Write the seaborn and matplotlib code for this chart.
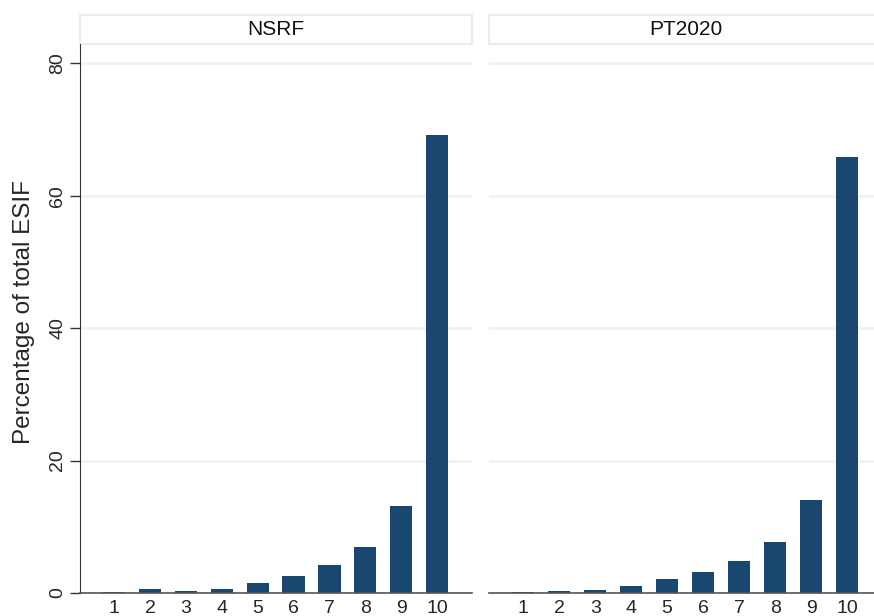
import pandas as pd
import seaborn as sns
import matplotlib.pyplot as plt
from matplotlib.patches import Rectangle

# values (percent of total ESIF by decile)
deciles = ['1', '2', '3', '4', '5', '6', '7', '8', '9', '10']
nsrf = [0.2, 0.55, 0.3, 0.65, 1.5, 2.6, 4.3, 7.0, 13.1, 69.2]
pt2020 = [0.1, 0.25, 0.4, 1.05, 2.05, 3.2, 4.8, 7.7, 14.1, 65.8]
periods = ['NSRF', 'PT2020']

df = pd.concat([
    pd.DataFrame({'decile': deciles, 'share': nsrf, 'period': 'NSRF'}),
    pd.DataFrame({'decile': deciles, 'share': pt2020, 'period': 'PT2020'}),
])

sns.set_style('white')
plt.rcParams['font.family'] = ['Liberation Sans', 'DejaVu Sans']

fig = plt.figure(figsize=(8.74, 6.16), dpi=100)
ax1 = fig.add_axes([0.0915, 0.0373, 0.4485, 0.8913])
ax2 = fig.add_axes([0.5595, 0.0373, 0.4497, 0.8913])

bar_col = '#1a476f'
grid_col = '#eef3f8'

for ax, p in zip([ax1, ax2], periods):
    sub = df[df['period'] == p]
    sns.barplot(data=sub, x='decile', y='share', order=deciles, color=bar_col,
                width=0.62, saturation=1, linewidth=0, ax=ax, zorder=3)
    ax.set_xlim(-0.95, 9.97)
    ax.set_ylim(0, 82.9)
    ax.set_yticks([0, 20, 40, 60, 80])
    ax.grid(axis='y', color=grid_col, linewidth=2, zorder=0)
    ax.set_xlabel('')
    ax.set_ylabel('')
    for s in ['top', 'right']:
        ax.spines[s].set_visible(False)
    ax.spines['bottom'].set_color('#555555')
    ax.spines['bottom'].set_linewidth(1.2)
    ax.spines['bottom'].set_zorder(4)
    ax.tick_params(axis='x', length=0, labelsize=14, pad=5)
    # strip header
    ax.add_patch(Rectangle((0, 1.0), 1, 29 / 549, transform=ax.transAxes,
                           facecolor='white', edgecolor='#e6edf4', linewidth=1.5,
                           clip_on=False))
    ax.text(0.5, 1.0 + 14.5 / 549, p, transform=ax.transAxes, ha='center',
            va='center', fontsize=15, color='#111111')

ax1.spines['left'].set_color('#333333')
ax1.tick_params(axis='y', length=7, width=1, color='#333333', labelsize=14,
                pad=3, left=True)
for lab in ax1.get_yticklabels():
    lab.set_rotation(90)
    lab.set_va('center')
ax1.set_ylabel('Percentage of total ESIF', fontsize=17.5)
ax1.yaxis.set_label_coords(-0.115, 0.512)

ax2.spines['left'].set_visible(False)
ax2.tick_params(axis='y', left=False, labelleft=False)

fig.savefig('out.png', dpi=100)
